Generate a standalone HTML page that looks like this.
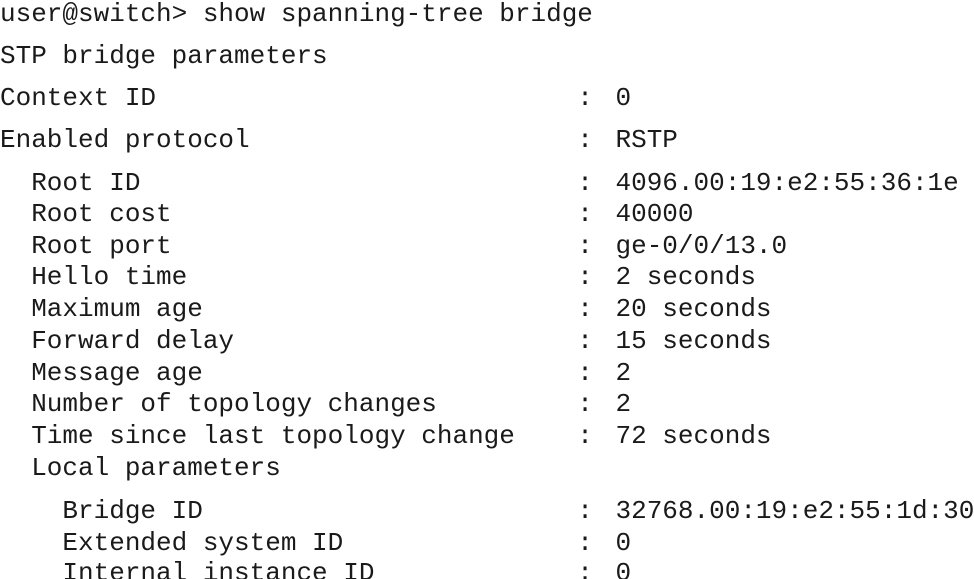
<!DOCTYPE html>
<html><head><meta charset="utf-8"><style>
html,body{margin:0;padding:0;background:#fff;width:974px;height:579px;overflow:hidden;position:relative}
div{position:absolute;left:0;white-space:pre;font-family:"Liberation Mono","DejaVu Sans Mono",monospace;font-size:26px;line-height:26px;color:#1a1a1a;height:26px}
b{font-weight:normal;margin-left:7px}
</style></head><body>
<div style="top:1px">user@switch&gt; show spanning-tree bridge</div>
<div style="top:43px">STP bridge parameters</div>
<div style="top:85px">Context ID                           : <b>0</b></div>
<div style="top:127px">Enabled protocol                     : <b>RSTP</b></div>
<div style="top:170px">  Root ID                            : <b>4096.00:19:e2:55:36:1e</b></div>
<div style="top:201px">  Root cost                          : <b>40000</b></div>
<div style="top:233px">  Root port                          : <b>ge-0/0/13.0</b></div>
<div style="top:264px">  Hello time                         : <b>2 seconds</b></div>
<div style="top:296px">  Maximum age                        : <b>20 seconds</b></div>
<div style="top:328px">  Forward delay                      : <b>15 seconds</b></div>
<div style="top:360px">  Message age                        : <b>2</b></div>
<div style="top:391px">  Number of topology changes         : <b>2</b></div>
<div style="top:423px">  Time since last topology change    : <b>72 seconds</b></div>
<div style="top:455px">  Local parameters</div>
<div style="top:498px">    Bridge ID                        : <b>32768.00:19:e2:55:1d:30</b></div>
<div style="top:530px">    Extended system ID               : <b>0</b></div>
<div style="top:560px">    Internal instance ID             : <b>0</b></div>
</body></html>
